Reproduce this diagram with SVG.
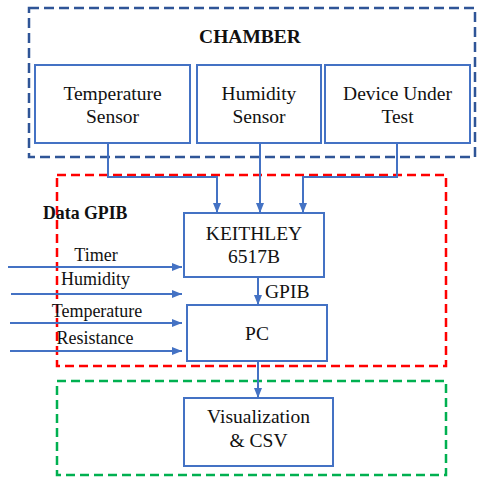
<svg xmlns="http://www.w3.org/2000/svg" width="477" height="477" viewBox="0 0 477 477">
<style>
.box{fill:#fff;stroke:#4472C4;stroke-width:2}
.t{font-family:"Liberation Serif","Times New Roman",serif;font-size:19.5px;fill:#111;text-anchor:middle}
.s{font-family:"Liberation Serif","Times New Roman",serif;font-size:19.5px;fill:#111;text-anchor:start}
.l{font-family:"Liberation Serif","Times New Roman",serif;font-size:18px;fill:#111;text-anchor:middle}
.b{font-family:"Liberation Serif","Times New Roman",serif;font-weight:bold;fill:#111}
.c{fill:none;stroke:#4472C4;stroke-width:2}
</style>
<defs>
<marker id="ah" markerWidth="10" markerHeight="8" refX="10" refY="4" orient="auto" markerUnits="userSpaceOnUse">
<path d="M0,0 L10,4 L0,8 Z" fill="#4472C4"/>
</marker>
</defs>
<g id="chamber">
<rect x="29" y="8" width="446" height="149" fill="none" stroke="#2F5597" stroke-width="2.5" stroke-dasharray="10,5"/>
<text class="b" x="250" y="43" font-size="19.5" text-anchor="middle">CHAMBER</text>
</g>
<g id="data-gpib">
<rect x="57" y="175" width="389" height="191" fill="none" stroke="#FF0000" stroke-width="2.5" stroke-dasharray="9,5"/>
<text class="b" x="43" y="219" font-size="17.8">Data GPIB</text>
</g>
<g id="output-zone">
<rect x="57" y="381" width="389" height="94" fill="none" stroke="#00B050" stroke-width="2.5" stroke-dasharray="9,5"/>
</g>
<g id="temp-sensor">
<rect class="box" x="35" y="65" width="155" height="78"/>
<text class="t" x="112.5" y="100">Temperature</text>
<text class="t" x="112.5" y="123">Sensor</text>
</g>
<g id="hum-sensor">
<rect class="box" x="197" y="65" width="124" height="78"/>
<text class="t" x="259" y="100">Humidity</text>
<text class="t" x="259" y="123">Sensor</text>
</g>
<g id="dut">
<rect class="box" x="325" y="65" width="145" height="78"/>
<text class="t" x="397.5" y="100">Device Under</text>
<text class="t" x="397.5" y="123">Test</text>
</g>
<g id="keithley">
<rect class="box" x="184" y="213" width="140" height="64"/>
<text class="t" x="254" y="240">KEITHLEY</text>
<text class="t" x="254" y="263">6517B</text>
</g>
<g id="pc">
<rect class="box" x="187" y="305" width="140" height="56"/>
<text class="t" x="257" y="340">PC</text>
</g>
<g id="viz">
<rect class="box" x="184" y="398" width="149" height="68"/>
<text class="t" x="258.5" y="423">Visualization</text>
<text class="t" x="258.5" y="447">&amp; CSV</text>
</g>
<g id="connectors">
<path class="c" d="M108,143 V177 H217 V213" marker-end="url(#ah)"/>
<path class="c" d="M260,143 V213" marker-end="url(#ah)"/>
<path class="c" d="M397,143 V177 H303 V213" marker-end="url(#ah)"/>
<path class="c" d="M258,277 V305" marker-end="url(#ah)"/>
<path class="c" d="M258,361 V398" marker-end="url(#ah)"/>
<path class="c" d="M8,267 H182" marker-end="url(#ah)"/>
<path class="c" d="M11,294 H182" marker-end="url(#ah)"/>
<path class="c" d="M10,323 H182" marker-end="url(#ah)"/>
<path class="c" d="M10,351 H182" marker-end="url(#ah)"/>
<text class="s" x="265" y="298">GPIB</text>
<text class="l" x="96" y="261">Timer</text>
<text class="l" x="95.5" y="285">Humidity</text>
<text class="l" x="97" y="317">Temperature</text>
<text class="l" x="95" y="344">Resistance</text>
</g>
</svg>
